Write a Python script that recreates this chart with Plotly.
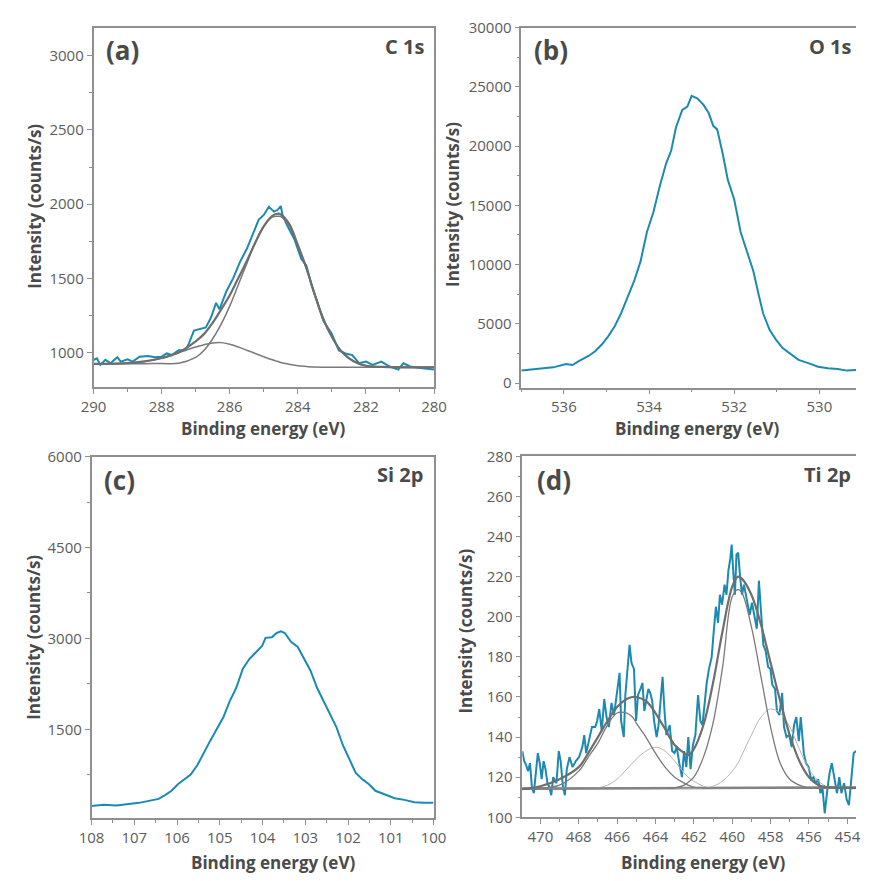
import plotly.graph_objects as go
from plotly.subplots import make_subplots

# ---------------- (a) C 1s ----------------
c1s_x = [290.0, 289.9, 289.8, 289.65, 289.5, 289.3, 289.2, 289.0, 288.85, 288.65, 288.4, 288.2, 288.0,
         287.85, 287.7, 287.5, 287.3, 287.2, 287.05, 286.85, 286.7, 286.55, 286.4, 286.3, 286.1, 285.9,
         285.7, 285.5, 285.35, 285.15, 285.0, 284.85, 284.7, 284.6, 284.5, 284.45, 284.3, 284.1, 283.9,
         283.75, 283.6, 283.4, 283.25, 283.0, 282.8, 282.6, 282.4, 282.2, 282.0, 281.8, 281.55, 281.3,
         281.05, 280.9, 280.7, 280.4, 280.0]
c1s_y = [949, 960, 916, 950, 927, 967, 938, 954, 938, 971, 976, 967, 971,
         993, 982, 1015, 1015, 1059, 1147, 1158, 1169, 1235, 1334, 1290, 1411, 1499,
         1609, 1697, 1785, 1894, 1927, 1982, 1949, 1960, 1987, 1927, 1851, 1763, 1631,
         1587, 1455, 1323, 1213, 1125, 1015, 993, 982, 927, 938, 916, 938, 905,
         884, 927, 905, 895, 884]

c1s_fit_x = [290.0, 289.0, 288.5, 288.0, 287.5, 287.0, 286.75, 286.5, 286.25, 286.0, 285.75, 285.5,
             285.25, 285.0, 284.75, 284.6, 284.5, 284.25, 284.0, 283.75, 283.5, 283.25, 283.0, 282.75,
             282.5, 282.25, 282.0, 281.5, 280.0]
c1s_env = [923, 928, 940, 962, 1000, 1075, 1125, 1200, 1290, 1385, 1500, 1615,
           1740, 1850, 1920, 1935, 1930, 1865, 1725, 1570, 1390, 1225, 1105, 1015,
           962, 928, 910, 902, 900]
c1s_main = [923, 924, 924, 925, 927, 967, 1015, 1092, 1191, 1312, 1455, 1598,
            1741, 1851, 1912, 1918, 1916, 1851, 1719, 1565, 1389, 1224, 1103, 1015,
            960, 927, 910, 901, 900]
c1s_comp2 = [923, 927, 938, 960, 998, 1037, 1052, 1064, 1066, 1055, 1037, 1015,
             993, 971, 950, 940, 932, 920, 910, 905, 901, 900, 900, 900,
             900, 900, 900, 900, 900]

# ---------------- (b) O 1s ----------------
o1s_x = [537.0, 536.86, 536.55, 536.25, 535.95, 535.8, 535.64, 535.42, 535.26, 535.11, 534.96, 534.81,
         534.66, 534.5, 534.35, 534.2, 534.05, 533.9, 533.75, 533.6, 533.48, 533.37, 533.22, 533.1,
         533.0, 532.87, 532.72, 532.6, 532.49, 532.4, 532.27, 532.15, 532.0, 531.85, 531.7, 531.55,
         531.43, 531.32, 531.17, 531.02, 530.87, 530.71, 530.49, 530.26, 530.03, 529.8, 529.57,
         529.35, 529.14]
o1s_y = [1046, 1100, 1238, 1321, 1596, 1514, 1871, 2284, 2697, 3247, 3935, 4761,
         5862, 7238, 8614, 10265, 12742, 14393, 16595, 18521, 19622, 21548, 23062, 23337,
         24245, 24025, 23475, 22787, 21686, 21411, 19347, 17145, 15494, 12742, 11090, 9439,
         7513, 5862, 4486, 3660, 2972, 2559, 1954, 1679, 1376, 1238, 1183,
         1046, 1100]

# ---------------- (c) Si 2p ----------------
si2p_x = [108.0, 107.72, 107.42, 107.11, 106.89, 106.66, 106.43, 106.28, 106.13, 105.98, 105.83, 105.68,
          105.52, 105.37, 105.22, 105.07, 104.92, 104.77, 104.62, 104.46, 104.31, 104.16, 104.01, 103.93,
          103.78, 103.67, 103.57, 103.48, 103.33, 103.18, 103.03, 102.88, 102.72, 102.57, 102.42, 102.27,
          102.12, 101.97, 101.82, 101.66, 101.51, 101.36, 101.21, 101.06, 100.91, 100.68, 100.45,
          100.23, 100.0]
si2p_y = [233, 254, 243, 270, 286, 319, 351, 415, 485, 593, 673, 754,
          915, 1129, 1317, 1505, 1693, 1962, 2177, 2499, 2660, 2767, 2875, 3009,
          3020, 3090, 3116, 3090, 2939, 2864, 2660, 2472, 2177, 1962, 1720, 1532,
          1237, 995, 780, 673, 593, 485, 442, 394, 362, 335, 297,
          286, 286]

# ---------------- (d) Ti 2p ----------------
ti2p_x = [470.94, 470.84, 470.74, 470.64, 470.54, 470.44, 470.34, 470.24, 470.13, 470.03, 469.93, 469.83,
          469.73, 469.63, 469.53, 469.43, 469.33, 469.16, 469.04, 468.94, 468.82, 468.72, 468.62, 468.48,
          468.32, 468.15, 467.98, 467.81, 467.71, 467.61, 467.47, 467.31, 467.14, 467.04, 466.93, 466.8,
          466.67, 466.55, 466.43, 466.29, 466.16, 465.99, 465.87, 465.79, 465.65, 465.57, 465.45, 465.35,
          465.25, 465.12, 465.01, 464.91, 464.78, 464.68, 464.58, 464.48, 464.37, 464.27, 464.17, 464.07,
          463.94, 463.84, 463.73, 463.63, 463.53, 463.43, 463.26, 463.13, 463.01, 462.89, 462.76, 462.62,
          462.51, 462.39, 462.29, 462.17, 462.05, 461.92, 461.78, 461.66, 461.55, 461.44, 461.33, 461.21,
          461.07, 460.97, 460.85, 460.74, 460.64, 460.53, 460.4, 460.3, 460.2, 460.1, 460.03, 459.95,
          459.86, 459.78, 459.69, 459.59, 459.49, 459.39, 459.29, 459.19, 459.09, 458.97, 458.83, 458.72,
          458.61, 458.51, 458.38, 458.26, 458.13, 458.01, 457.91, 457.77, 457.67, 457.54, 457.4, 457.3,
          457.17, 457.03, 456.9, 456.78, 456.66, 456.53, 456.43, 456.27, 456.16, 456.02, 455.89, 455.77,
          455.65, 455.52, 455.4, 455.3, 455.18, 455.04, 454.93, 454.81, 454.68, 454.54, 454.42, 454.31,
          454.17, 454.04, 453.92, 453.8, 453.67, 453.55]
ti2p_y = [133, 128, 126, 123, 127, 115, 112, 122, 132, 127, 119, 128,
          124, 117, 115, 111, 120, 117, 133, 128, 115, 111, 124, 130,
          125, 128, 130, 135, 141, 132, 138, 145, 145, 148, 154, 143,
          159, 150, 145, 157, 151, 164, 172, 148, 140, 161, 174, 186,
          177, 174, 148, 161, 164, 167, 153, 158, 164, 162, 158, 148,
          140, 146, 159, 170, 153, 141, 146, 133, 132, 135, 127, 120,
          133, 125, 140, 124, 136, 141, 161, 148, 146, 156, 167, 174,
          180, 192, 205, 197, 211, 206, 216, 211, 223, 229, 236, 223,
          211, 231, 232, 220, 211, 216, 211, 206, 201, 207, 199, 194,
          218, 202, 186, 183, 175, 174, 166, 164, 153, 151, 162, 145,
          140, 141, 135, 146, 150, 138, 150, 132, 127, 125, 119, 120,
          117, 119, 112, 115, 102, 114, 122, 127, 119, 112, 120, 112,
          117, 109, 106, 117, 132, 133]

ti_fit_x = [471.0, 470.0, 469.0, 468.0, 467.5, 467.0, 466.5, 466.0, 465.5, 465.2, 465.0, 464.5,
            464.0, 463.5, 463.0, 462.5, 462.3, 462.0, 461.5, 461.0, 460.5, 460.0, 459.7, 459.5,
            459.0, 458.5, 458.0, 457.5, 457.0, 456.5, 456.0, 455.5, 455.0, 454.0, 453.5]
ti_env = [114, 115.5, 119, 125, 132, 140, 148, 155, 159, 160, 160, 158,
          152, 144, 136, 132, 131, 134, 146, 167, 193, 215, 220, 219,
          211, 196, 177, 158, 141, 128, 120, 116, 115, 114.6, 114.6]
ti_comp1 = [114, 114.5, 116, 123, 130, 137, 146, 152, 152, 150, 147, 140,
            132, 125, 120, 117, 116, 115, 114.6, 114.5, 114.5, 114.5, 114.5, 114.5,
            114.5, 114.5, 114.5, 114.5, 114.5, 114.5, 114.5, 114.5, 114.5, 114.5, 114.5]
ti_comp2 = [114.5, 114.5, 114.5, 114.5, 114.5, 114.7, 116, 119, 124, 127, 129, 133,
            135, 133, 128, 122, 120, 118, 115.5, 114.5, 114.5, 114.5, 114.5, 114.5,
            114.5, 114.5, 114.5, 114.5, 114.5, 114.5, 114.5, 114.5, 114.5, 114.5, 114.5]
ti_comp3 = [114.5, 114.5, 114.5, 114.5, 114.5, 114.5, 114.5, 114.5, 114.5, 114.5, 114.5, 114.5,
            114.5, 114.5, 114.6, 116, 117.5, 120, 130, 147, 175, 210, 213.5, 212,
            195, 170, 145, 127, 119, 116, 114.5, 114.5, 114.5, 114.5, 114.5]
ti_comp4 = [114.5, 114.5, 114.5, 114.5, 114.5, 114.5, 114.5, 114.5, 114.5, 114.5, 114.5, 114.5,
            114.5, 114.5, 114.5, 114.5, 114.5, 114.5, 114.5, 115.5, 118, 123, 127, 131,
            141, 150, 154, 152, 145, 134, 124, 118, 115, 114.5, 114.5]
ti_base_x = [471.0, 453.5]
ti_base_y = [114.2, 114.9]

# ---------------- styling ----------------
BLUE = "#1b8ab3"
DARK = "#6e6e6e"
MID = "#7a7a7a"
LIGHT = "#b4b4b4"
TXT = "#4a4a4a"
TICK = "#5c5c5c"
AXC = "#8f8f8f"
FONT = "Open Sans"
W, H = 869, 881

fig = make_subplots(rows=2, cols=2)

def add(x, y, row, col, color, width, shape="linear"):
    fig.add_trace(go.Scatter(x=x, y=y, mode="lines", line=dict(color=color, width=width, shape=shape),
                             showlegend=False, hoverinfo="skip"), row=row, col=col)

# (a)
add(c1s_x, c1s_y, 1, 1, BLUE, 2)
add(c1s_fit_x, c1s_comp2, 1, 1, MID, 1.5, "spline")
add(c1s_fit_x, c1s_main, 1, 1, MID, 1.5, "spline")
add(c1s_fit_x, c1s_env, 1, 1, DARK, 2.2, "spline")
# (b)
add(o1s_x, o1s_y, 1, 2, BLUE, 2)
# (c)
add(si2p_x, si2p_y, 2, 1, BLUE, 2)
# (d)
add(ti2p_x, ti2p_y, 2, 2, BLUE, 2)
add(ti_base_x, ti_base_y, 2, 2, MID, 2.5)
add(ti_fit_x, ti_comp2, 2, 2, LIGHT, 1, "spline")
add(ti_fit_x, ti_comp4, 2, 2, LIGHT, 1, "spline")
add(ti_fit_x, ti_comp1, 2, 2, MID, 1.3, "spline")
add(ti_fit_x, ti_comp3, 2, 2, MID, 1.3, "spline")
add(ti_fit_x, ti_env, 2, 2, DARK, 2.2, "spline")

def px_dom_x(a, b):
    return [a / W, b / W]

def px_dom_y(top, bottom):
    return [1 - bottom / H, 1 - top / H]

common_ax = dict(showline=True, linecolor=AXC, linewidth=1.5, ticks="outside", ticklen=5, tickwidth=1.2,
                 tickcolor=AXC, showgrid=False, zeroline=False, tickformat="d",
                 tickfont=dict(family=FONT, size=15, color=TICK))

panels = [
    ("xaxis", "yaxis", px_dom_x(83, 434), px_dom_y(17, 385), [290, 280], 2, 1, [765, 3190], 500, 250, True),
    ("xaxis2", "yaxis2", px_dom_x(524, 869), px_dom_y(17, 385.5), [537, 529.14], 2, 1, [-400, 30000], 5000, 2500, False),
    ("xaxis3", "yaxis3", px_dom_x(81, 433.5), px_dom_y(456, 825.5), [108, 100], 1, 0.5, [40, 6000], 1500, 750, True),
    ("xaxis4", "yaxis4", px_dom_x(525, 869), px_dom_y(455.7, 825), [470.94, 453.55], 2, 1, [100, 280], 20, 10, False),
]

for xa, ya, xd, yd, xr, xdt, xmn, yr, ydt, ymn, my in panels:
    fig.layout[xa].update(domain=xd, range=xr, dtick=xdt, tick0=0, mirror=True,
                          minor=dict(dtick=xmn, ticks="outside", ticklen=3, tickcolor=AXC, tickwidth=1),
                          **common_ax)
    fig.layout[ya].update(domain=yd, range=yr, dtick=ydt, tick0=0, mirror=my,
                          minor=dict(dtick=ymn, ticks="outside", ticklen=3, tickcolor=AXC, tickwidth=1),
                          **common_ax)

annotations = []

def ann(text, x, y, size, xanchor="center", yanchor="middle", angle=0, color=TXT):
    annotations.append(dict(text=text, x=x / W, y=1 - y / H, xref="paper", yref="paper",
                            xanchor=xanchor, yanchor=yanchor, showarrow=False, textangle=angle,
                            font=dict(family=FONT, size=size, color=color)))

# axis titles
for cx, cy in [(258, 427), (705, 427), (268, 871), (711, 871)]:
    ann("<b>Binding energy (eV)</b>", cx, cy, 17)
for cx, cy in [(22, 200), (453, 198), (21, 641), (467, 635)]:
    ann("<b>Intensity (counts/s)</b>", cx, cy, 17, angle=-90)

# panel labels
ann("<b>(a)</b>", 113, 40, 26)
ann("<b>C 1s</b>", 426, 36, 20, xanchor="right")
ann("<b>(b)</b>", 555, 40, 26)
ann("<b>O 1s</b>", 818, 36, 20, xanchor="left")
ann("<b>(c)</b>", 110, 480, 26)
ann("<b>Si 2p</b>", 425, 474, 20, xanchor="right")
ann("<b>(d)</b>", 558, 480, 26)
ann("<b>Ti 2p</b>", 813, 474, 20, xanchor="left")

fig.update_layout(width=W, height=H, margin=dict(l=0, r=0, t=0, b=0),
                  paper_bgcolor="white", plot_bgcolor="white",
                  annotations=annotations, showlegend=False)

fig.write_html("out.html")
